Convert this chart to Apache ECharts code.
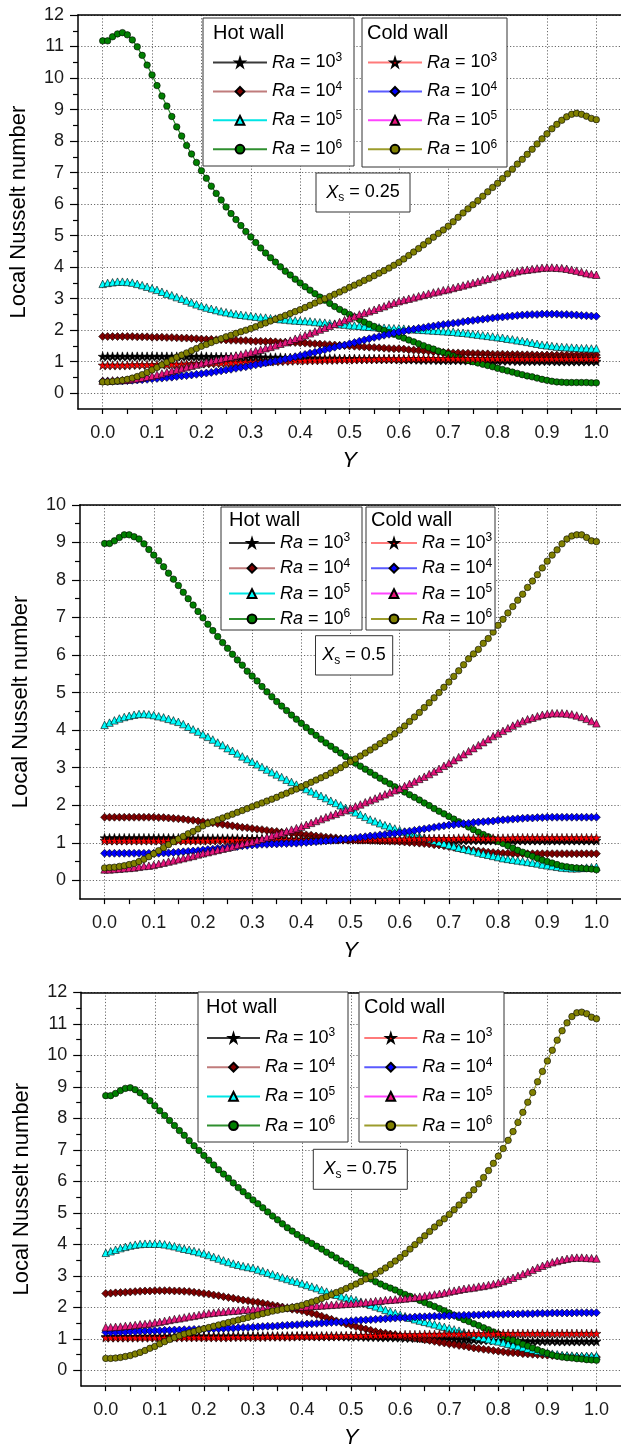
<!DOCTYPE html>
<html>
<head>
<meta charset="utf-8">
<script src="https://cdn.jsdelivr.net/npm/echarts@6/dist/echarts.min.js"></script>
<style>
  html, body { margin: 0; padding: 0; background: #ffffff; }
  #chart { width: 621px; height: 1452px; }
</style>
</head>
<body>
<div id="chart"></div>
<script>
// ---------------------------------------------------------------
// Local Nusselt number along the hot and cold walls, three heater
// positions Xs, four Rayleigh numbers. Samples every 0.01 in Y.
// ---------------------------------------------------------------
const Y_POS = Array.from({ length: 101 }, (_, i) => i / 100);

const X_TICK_VALUES = [0, 0.1, 0.2, 0.3, 0.4, 0.5, 0.6, 0.7, 0.8, 0.9, 1.0];
const X_MINOR_TICKS = [0.05, 0.15, 0.25, 0.35, 0.45, 0.55, 0.65, 0.75, 0.85, 0.95];
const Y_TICKS_12 = [0, 1, 2, 3, 4, 5, 6, 7, 8, 9, 10, 11, 12];
const Y_MINOR_12 = [0.5, 1.5, 2.5, 3.5, 4.5, 5.5, 6.5, 7.5, 8.5, 9.5, 10.5, 11.5];
const Y_TICKS_10 = [0, 1, 2, 3, 4, 5, 6, 7, 8, 9, 10];
const Y_MINOR_10 = [0.5, 1.5, 2.5, 3.5, 4.5, 5.5, 6.5, 7.5, 8.5, 9.5];

const XS_VALUES = ['0.25', '0.5', '0.75'];
const RA_EXPONENTS = ['3', '4', '5', '6'];

// ---------------- Xs = 0.25 ----------------
const P1_HOT_RA3 = [
1.17,1.17,1.17,1.17,1.17,1.17,1.17,1.17,1.17,1.17,
1.17,1.17,1.17,1.17,1.17,1.17,1.17,1.17,1.17,1.17,
1.17,1.17,1.16,1.16,1.16,1.16,1.16,1.16,1.15,1.15,
1.15,1.15,1.15,1.14,1.14,1.14,1.14,1.13,1.13,1.13,
1.13,1.12,1.12,1.12,1.11,1.11,1.11,1.11,1.10,1.10,
1.10,1.10,1.09,1.09,1.09,1.09,1.08,1.08,1.08,1.08,
1.07,1.07,1.07,1.07,1.06,1.06,1.06,1.06,1.05,1.05,
1.05,1.05,1.05,1.04,1.04,1.04,1.04,1.04,1.03,1.03,
1.03,1.03,1.03,1.03,1.02,1.02,1.02,1.02,1.02,1.02,
1.02,1.02,1.01,1.01,1.01,1.01,1.01,1.01,1.01,1.01,
1.01];
const P1_HOT_RA4 = [
1.80,1.80,1.80,1.80,1.80,1.80,1.80,1.79,1.79,1.79,
1.78,1.78,1.78,1.77,1.77,1.76,1.75,1.75,1.74,1.73,
1.72,1.71,1.71,1.70,1.70,1.69,1.68,1.68,1.67,1.67,
1.66,1.65,1.65,1.64,1.64,1.63,1.62,1.62,1.61,1.61,
1.60,1.59,1.58,1.57,1.56,1.55,1.54,1.53,1.52,1.51,
1.50,1.49,1.48,1.47,1.46,1.45,1.44,1.43,1.42,1.41,
1.41,1.40,1.38,1.37,1.36,1.35,1.34,1.32,1.31,1.30,
1.29,1.28,1.28,1.27,1.27,1.26,1.26,1.25,1.25,1.24,
1.24,1.24,1.23,1.23,1.23,1.22,1.22,1.22,1.21,1.21,
1.21,1.21,1.21,1.21,1.21,1.21,1.21,1.21,1.21,1.21,
1.21];
const P1_HOT_RA5 = [
3.47,3.50,3.52,3.54,3.54,3.53,3.51,3.47,3.43,3.38,
3.33,3.28,3.22,3.16,3.11,3.05,3.00,2.94,2.88,2.82,
2.77,2.72,2.68,2.64,2.60,2.57,2.54,2.51,2.49,2.47,
2.45,2.43,2.41,2.40,2.38,2.37,2.35,2.34,2.32,2.31,
2.30,2.29,2.28,2.26,2.25,2.24,2.22,2.21,2.19,2.18,
2.16,2.15,2.14,2.12,2.11,2.10,2.09,2.08,2.07,2.06,
2.06,2.05,2.04,2.03,2.02,2.01,2.00,1.99,1.98,1.97,
1.96,1.95,1.93,1.92,1.90,1.88,1.86,1.84,1.82,1.80,
1.78,1.76,1.73,1.71,1.68,1.66,1.63,1.60,1.57,1.54,
1.52,1.50,1.48,1.47,1.46,1.45,1.44,1.43,1.43,1.42,
1.42];
const P1_HOT_RA6 = [
11.18,11.18,11.31,11.40,11.44,11.37,11.21,10.99,10.72,10.41,
10.10,9.76,9.43,9.11,8.78,8.45,8.16,7.86,7.59,7.32,
7.06,6.82,6.57,6.34,6.13,5.91,5.70,5.51,5.32,5.13,
4.96,4.78,4.61,4.45,4.30,4.16,4.01,3.87,3.75,3.62,
3.50,3.38,3.27,3.16,3.05,2.95,2.85,2.75,2.66,2.58,
2.50,2.42,2.34,2.26,2.19,2.12,2.05,1.99,1.93,1.87,
1.81,1.75,1.69,1.63,1.57,1.51,1.45,1.40,1.34,1.29,
1.24,1.18,1.13,1.08,1.04,1.00,0.96,0.92,0.88,0.84,
0.79,0.75,0.71,0.67,0.63,0.59,0.55,0.52,0.48,0.44,
0.41,0.38,0.36,0.35,0.34,0.34,0.34,0.34,0.34,0.33,
0.33];
const P1_COLD_RA3 = [
0.89,0.89,0.89,0.89,0.89,0.89,0.90,0.90,0.90,0.90,
0.90,0.91,0.91,0.91,0.92,0.92,0.92,0.93,0.93,0.94,
0.94,0.95,0.95,0.96,0.96,0.97,0.97,0.98,0.98,0.99,
0.99,1.00,1.00,1.01,1.01,1.02,1.02,1.03,1.03,1.04,
1.04,1.04,1.05,1.05,1.05,1.06,1.06,1.06,1.07,1.07,
1.07,1.07,1.08,1.08,1.08,1.08,1.09,1.09,1.09,1.09,
1.09,1.09,1.10,1.10,1.10,1.10,1.10,1.10,1.10,1.10,
1.10,1.10,1.10,1.10,1.10,1.10,1.10,1.10,1.10,1.10,
1.10,1.10,1.10,1.10,1.10,1.10,1.10,1.10,1.10,1.10,
1.10,1.10,1.10,1.10,1.10,1.10,1.10,1.10,1.10,1.10,
1.10];
const P1_COLD_RA4 = [
0.38,0.38,0.38,0.39,0.39,0.40,0.41,0.42,0.43,0.44,
0.46,0.47,0.48,0.50,0.51,0.53,0.55,0.56,0.58,0.60,
0.62,0.64,0.66,0.69,0.71,0.74,0.76,0.79,0.82,0.84,
0.87,0.90,0.93,0.96,0.99,1.02,1.05,1.09,1.12,1.16,
1.19,1.23,1.27,1.30,1.34,1.38,1.42,1.46,1.50,1.53,
1.57,1.61,1.65,1.69,1.73,1.77,1.80,1.84,1.87,1.91,
1.94,1.97,2.00,2.03,2.06,2.08,2.11,2.13,2.16,2.18,
2.20,2.22,2.24,2.27,2.29,2.31,2.33,2.35,2.37,2.39,
2.41,2.42,2.44,2.45,2.47,2.48,2.49,2.50,2.50,2.51,
2.51,2.51,2.51,2.50,2.50,2.49,2.48,2.47,2.46,2.45,
2.44];
const P1_COLD_RA5 = [
0.40,0.40,0.41,0.41,0.42,0.43,0.45,0.47,0.49,0.52,
0.55,0.59,0.63,0.67,0.71,0.75,0.79,0.83,0.87,0.91,
0.95,0.99,1.02,1.06,1.09,1.13,1.16,1.20,1.23,1.27,
1.30,1.34,1.38,1.43,1.47,1.52,1.57,1.62,1.67,1.73,
1.78,1.84,1.90,1.96,2.02,2.08,2.14,2.20,2.26,2.32,
2.38,2.44,2.50,2.55,2.60,2.65,2.71,2.76,2.82,2.87,
2.92,2.96,3.00,3.04,3.08,3.12,3.16,3.20,3.23,3.27,
3.30,3.34,3.38,3.42,3.46,3.50,3.54,3.59,3.63,3.68,
3.72,3.76,3.80,3.83,3.87,3.90,3.92,3.94,3.96,3.98,
3.99,3.99,3.98,3.97,3.95,3.92,3.89,3.85,3.81,3.78,
3.76];
const P1_COLD_RA6 = [
0.36,0.36,0.37,0.39,0.41,0.44,0.48,0.53,0.59,0.66,
0.74,0.82,0.90,0.98,1.06,1.14,1.21,1.28,1.35,1.42,
1.49,1.55,1.61,1.67,1.73,1.79,1.84,1.90,1.95,2.00,
2.05,2.11,2.17,2.23,2.29,2.35,2.41,2.47,2.53,2.59,
2.65,2.72,2.79,2.86,2.93,3.00,3.07,3.14,3.21,3.28,
3.36,3.43,3.50,3.58,3.65,3.73,3.81,3.89,3.97,4.06,
4.15,4.26,4.37,4.48,4.59,4.71,4.83,4.95,5.07,5.18,
5.30,5.44,5.58,5.72,5.85,5.98,6.11,6.25,6.39,6.53,
6.66,6.81,6.96,7.11,7.27,7.42,7.58,7.74,7.91,8.07,
8.23,8.39,8.53,8.66,8.77,8.85,8.88,8.85,8.79,8.72,
8.68];

// ---------------- Xs = 0.5 ----------------
const P2_HOT_RA3 = [
1.13,1.13,1.13,1.13,1.13,1.13,1.13,1.13,1.13,1.13,
1.13,1.13,1.13,1.13,1.13,1.13,1.13,1.12,1.12,1.12,
1.12,1.12,1.12,1.12,1.12,1.12,1.12,1.12,1.11,1.11,
1.11,1.11,1.11,1.11,1.11,1.11,1.11,1.10,1.10,1.10,
1.10,1.10,1.10,1.10,1.10,1.10,1.09,1.09,1.09,1.09,
1.09,1.09,1.09,1.09,1.09,1.08,1.08,1.08,1.08,1.08,
1.08,1.08,1.08,1.08,1.08,1.07,1.07,1.07,1.07,1.07,
1.07,1.07,1.07,1.07,1.07,1.07,1.07,1.06,1.06,1.06,
1.06,1.06,1.06,1.06,1.06,1.06,1.06,1.06,1.06,1.06,
1.06,1.06,1.06,1.06,1.06,1.06,1.06,1.06,1.06,1.06,
1.06];
const P2_HOT_RA4 = [
1.68,1.68,1.68,1.68,1.68,1.68,1.68,1.68,1.68,1.68,
1.68,1.67,1.67,1.66,1.65,1.64,1.63,1.61,1.60,1.58,
1.56,1.54,1.53,1.51,1.49,1.47,1.45,1.43,1.41,1.40,
1.38,1.36,1.35,1.33,1.31,1.30,1.28,1.27,1.25,1.24,
1.23,1.21,1.20,1.18,1.17,1.15,1.14,1.13,1.11,1.10,
1.09,1.08,1.07,1.07,1.06,1.06,1.05,1.05,1.04,1.04,
1.03,1.02,1.01,1.00,0.99,0.98,0.97,0.95,0.94,0.92,
0.90,0.88,0.86,0.84,0.82,0.80,0.78,0.77,0.75,0.74,
0.73,0.72,0.72,0.71,0.71,0.71,0.71,0.71,0.71,0.71,
0.71,0.71,0.71,0.71,0.71,0.71,0.71,0.71,0.71,0.71,
0.71];
const P2_HOT_RA5 = [
4.14,4.20,4.26,4.31,4.35,4.38,4.41,4.43,4.43,4.42,
4.40,4.37,4.34,4.30,4.26,4.22,4.16,4.09,4.02,3.96,
3.89,3.82,3.75,3.67,3.60,3.52,3.45,3.38,3.30,3.23,
3.16,3.09,3.02,2.95,2.88,2.82,2.75,2.68,2.62,2.55,
2.49,2.43,2.37,2.31,2.25,2.19,2.12,2.06,2.00,1.93,
1.87,1.81,1.75,1.69,1.62,1.57,1.52,1.47,1.43,1.38,
1.34,1.30,1.26,1.22,1.18,1.14,1.10,1.06,1.02,0.98,
0.94,0.91,0.87,0.84,0.81,0.78,0.74,0.71,0.68,0.65,
0.62,0.59,0.57,0.55,0.53,0.51,0.49,0.47,0.45,0.42,
0.40,0.38,0.36,0.34,0.33,0.32,0.32,0.33,0.34,0.35,
0.36];
const P2_HOT_RA6 = [
8.97,8.97,9.04,9.13,9.20,9.20,9.15,9.09,8.96,8.81,
8.66,8.51,8.35,8.18,8.02,7.85,7.67,7.50,7.33,7.16,
6.99,6.82,6.65,6.49,6.33,6.18,6.02,5.87,5.73,5.57,
5.44,5.31,5.16,5.02,4.89,4.76,4.64,4.52,4.40,4.29,
4.18,4.07,3.96,3.86,3.76,3.66,3.57,3.48,3.39,3.30,
3.21,3.12,3.04,2.96,2.88,2.80,2.72,2.64,2.57,2.49,
2.42,2.35,2.28,2.21,2.14,2.06,1.99,1.91,1.84,1.77,
1.70,1.63,1.56,1.49,1.42,1.35,1.28,1.22,1.16,1.10,
1.04,0.98,0.92,0.86,0.80,0.75,0.69,0.64,0.59,0.54,
0.50,0.46,0.42,0.38,0.36,0.34,0.33,0.32,0.31,0.30,
0.28];
const P2_COLD_RA3 = [
1.06,1.06,1.06,1.06,1.06,1.06,1.06,1.06,1.06,1.06,
1.06,1.06,1.06,1.06,1.06,1.06,1.06,1.06,1.06,1.06,
1.06,1.06,1.06,1.07,1.07,1.07,1.07,1.07,1.07,1.07,
1.07,1.07,1.07,1.07,1.07,1.08,1.08,1.08,1.08,1.08,
1.08,1.08,1.08,1.08,1.08,1.09,1.09,1.09,1.09,1.09,
1.09,1.09,1.09,1.09,1.10,1.10,1.10,1.10,1.10,1.10,
1.10,1.10,1.10,1.11,1.11,1.11,1.11,1.11,1.11,1.11,
1.11,1.11,1.12,1.12,1.12,1.12,1.12,1.12,1.12,1.12,
1.12,1.12,1.12,1.13,1.13,1.13,1.13,1.13,1.13,1.13,
1.13,1.13,1.13,1.13,1.13,1.13,1.13,1.13,1.13,1.13,
1.13];
const P2_COLD_RA4 = [
0.72,0.72,0.72,0.72,0.72,0.72,0.72,0.72,0.72,0.72,
0.72,0.72,0.73,0.73,0.74,0.75,0.76,0.77,0.78,0.79,
0.81,0.82,0.83,0.85,0.86,0.88,0.89,0.90,0.92,0.93,
0.94,0.95,0.96,0.96,0.97,0.97,0.98,0.98,0.99,0.99,
1.00,1.01,1.02,1.03,1.04,1.05,1.06,1.07,1.09,1.10,
1.12,1.13,1.15,1.16,1.18,1.19,1.21,1.22,1.24,1.25,
1.27,1.29,1.31,1.33,1.35,1.37,1.39,1.41,1.43,1.45,
1.47,1.48,1.50,1.51,1.52,1.54,1.55,1.56,1.57,1.58,
1.60,1.61,1.62,1.63,1.64,1.65,1.66,1.66,1.67,1.67,
1.68,1.68,1.68,1.68,1.68,1.68,1.68,1.68,1.68,1.68,
1.68];
const P2_COLD_RA5 = [
0.29,0.29,0.30,0.31,0.32,0.33,0.34,0.36,0.38,0.39,
0.41,0.44,0.47,0.50,0.53,0.56,0.59,0.62,0.65,0.69,
0.72,0.75,0.78,0.81,0.84,0.87,0.90,0.94,0.97,1.00,
1.03,1.07,1.11,1.15,1.19,1.23,1.27,1.31,1.35,1.39,
1.43,1.48,1.53,1.58,1.63,1.68,1.73,1.77,1.82,1.87,
1.92,1.97,2.02,2.08,2.13,2.18,2.24,2.29,2.34,2.40,
2.45,2.51,2.57,2.63,2.70,2.76,2.83,2.90,2.97,3.05,
3.12,3.20,3.28,3.36,3.44,3.52,3.60,3.68,3.76,3.84,
3.91,3.98,4.05,4.12,4.18,4.24,4.29,4.33,4.37,4.41,
4.43,4.45,4.45,4.45,4.44,4.42,4.39,4.35,4.30,4.24,
4.18];
const P2_COLD_RA6 = [
0.33,0.34,0.35,0.37,0.39,0.42,0.45,0.50,0.56,0.63,
0.71,0.79,0.87,0.95,1.03,1.10,1.17,1.24,1.30,1.37,
1.45,1.51,1.56,1.61,1.66,1.71,1.76,1.81,1.86,1.91,
1.96,2.01,2.06,2.11,2.16,2.21,2.27,2.32,2.38,2.43,
2.49,2.55,2.61,2.67,2.73,2.79,2.86,2.93,3.00,3.08,
3.16,3.23,3.31,3.39,3.47,3.55,3.64,3.72,3.81,3.90,
4.00,4.11,4.23,4.35,4.47,4.60,4.73,4.86,5.00,5.14,
5.28,5.43,5.58,5.74,5.90,6.03,6.15,6.31,6.44,6.61,
6.79,6.95,7.12,7.29,7.46,7.62,7.80,7.97,8.14,8.32,
8.50,8.66,8.80,8.96,9.09,9.17,9.20,9.20,9.13,9.04,
9.02];

// ---------------- Xs = 0.75 ----------------
const P3_HOT_RA3 = [
1.07,1.07,1.07,1.07,1.07,1.07,1.07,1.08,1.08,1.08,
1.08,1.08,1.08,1.08,1.09,1.09,1.09,1.09,1.09,1.09,
1.09,1.09,1.09,1.09,1.09,1.09,1.09,1.09,1.09,1.09,
1.09,1.09,1.09,1.09,1.09,1.09,1.09,1.09,1.09,1.09,
1.09,1.09,1.09,1.08,1.08,1.08,1.08,1.08,1.08,1.07,
1.07,1.07,1.07,1.06,1.06,1.06,1.05,1.05,1.05,1.04,
1.04,1.03,1.03,1.03,1.02,1.02,1.01,1.01,1.00,1.00,
0.99,0.99,0.98,0.98,0.97,0.97,0.96,0.96,0.96,0.95,
0.95,0.95,0.94,0.94,0.94,0.94,0.93,0.93,0.93,0.93,
0.93,0.93,0.92,0.92,0.92,0.92,0.92,0.92,0.92,0.92,
0.92];
const P3_HOT_RA4 = [
2.44,2.45,2.46,2.47,2.48,2.49,2.50,2.51,2.52,2.52,
2.53,2.53,2.53,2.53,2.52,2.52,2.51,2.50,2.48,2.46,
2.44,2.42,2.39,2.37,2.34,2.31,2.29,2.26,2.23,2.21,
2.18,2.16,2.13,2.10,2.07,2.04,2.01,1.97,1.94,1.92,
1.89,1.85,1.81,1.77,1.72,1.67,1.62,1.57,1.52,1.47,
1.43,1.39,1.35,1.31,1.27,1.23,1.20,1.18,1.15,1.13,
1.10,1.07,1.05,1.02,1.00,0.97,0.95,0.92,0.89,0.87,
0.84,0.82,0.79,0.77,0.74,0.71,0.69,0.67,0.65,0.63,
0.61,0.59,0.57,0.56,0.55,0.53,0.52,0.51,0.50,0.49,
0.48,0.47,0.46,0.45,0.44,0.43,0.43,0.42,0.42,0.42,
0.42];
const P3_HOT_RA5 = [
3.73,3.78,3.83,3.88,3.92,3.96,3.99,4.01,4.02,4.02,
4.02,4.02,4.00,3.97,3.94,3.90,3.86,3.83,3.79,3.75,
3.71,3.66,3.60,3.55,3.49,3.44,3.39,3.35,3.31,3.28,
3.25,3.20,3.15,3.10,3.05,3.00,2.95,2.90,2.85,2.81,
2.76,2.71,2.66,2.61,2.55,2.50,2.45,2.40,2.35,2.31,
2.27,2.23,2.18,2.13,2.08,2.03,1.98,1.92,1.87,1.82,
1.77,1.72,1.67,1.62,1.58,1.54,1.50,1.46,1.42,1.38,
1.34,1.30,1.26,1.21,1.16,1.11,1.07,1.03,0.99,0.95,
0.92,0.88,0.84,0.80,0.77,0.73,0.69,0.66,0.62,0.59,
0.56,0.53,0.51,0.49,0.48,0.47,0.46,0.46,0.46,0.46,
0.46];
const P3_HOT_RA6 = [
8.72,8.72,8.79,8.88,8.95,8.97,8.91,8.81,8.70,8.56,
8.40,8.24,8.09,7.93,7.77,7.61,7.46,7.29,7.13,6.98,
6.82,6.67,6.52,6.37,6.23,6.10,5.95,5.80,5.67,5.54,
5.41,5.29,5.16,5.03,4.90,4.78,4.65,4.53,4.42,4.31,
4.21,4.12,4.03,3.94,3.85,3.75,3.66,3.57,3.47,3.38,
3.28,3.18,3.09,3.00,2.90,2.81,2.74,2.67,2.61,2.55,
2.48,2.41,2.35,2.28,2.22,2.15,2.09,2.03,1.96,1.89,
1.82,1.75,1.68,1.61,1.55,1.48,1.42,1.35,1.29,1.22,
1.15,1.09,1.02,0.96,0.90,0.83,0.77,0.71,0.65,0.59,
0.54,0.49,0.45,0.42,0.40,0.39,0.37,0.36,0.34,0.33,
0.32];
const P3_COLD_RA3 = [
1.04,1.04,1.04,1.04,1.04,1.04,1.04,1.04,1.04,1.04,
1.04,1.04,1.04,1.04,1.04,1.05,1.05,1.05,1.05,1.05,
1.05,1.05,1.05,1.05,1.05,1.05,1.06,1.06,1.06,1.06,
1.06,1.06,1.06,1.07,1.07,1.07,1.07,1.07,1.07,1.08,
1.08,1.08,1.08,1.08,1.09,1.09,1.09,1.09,1.09,1.10,
1.10,1.10,1.10,1.11,1.11,1.11,1.11,1.12,1.12,1.12,
1.12,1.13,1.13,1.13,1.13,1.14,1.14,1.14,1.14,1.15,
1.15,1.15,1.15,1.15,1.16,1.16,1.16,1.16,1.16,1.16,
1.17,1.17,1.17,1.17,1.17,1.17,1.17,1.17,1.17,1.17,
1.17,1.17,1.17,1.17,1.17,1.17,1.17,1.17,1.17,1.17,
1.17];
const P3_COLD_RA4 = [
1.21,1.21,1.21,1.22,1.22,1.23,1.23,1.24,1.25,1.25,
1.26,1.26,1.27,1.27,1.28,1.28,1.29,1.29,1.30,1.30,
1.31,1.31,1.32,1.32,1.33,1.34,1.34,1.35,1.36,1.36,
1.37,1.38,1.39,1.40,1.40,1.41,1.42,1.43,1.44,1.45,
1.46,1.47,1.48,1.49,1.50,1.51,1.52,1.53,1.54,1.55,
1.57,1.58,1.59,1.60,1.61,1.62,1.63,1.64,1.65,1.66,
1.67,1.67,1.68,1.69,1.70,1.70,1.71,1.72,1.72,1.73,
1.73,1.74,1.74,1.75,1.75,1.76,1.76,1.77,1.77,1.78,
1.78,1.78,1.79,1.79,1.79,1.80,1.80,1.80,1.81,1.81,
1.81,1.82,1.82,1.82,1.82,1.82,1.83,1.83,1.83,1.83,
1.83];
const P3_COLD_RA5 = [
1.37,1.37,1.38,1.39,1.41,1.42,1.44,1.46,1.47,1.49,
1.52,1.54,1.57,1.60,1.63,1.65,1.68,1.71,1.73,1.76,
1.79,1.81,1.83,1.85,1.86,1.88,1.89,1.90,1.92,1.93,
1.94,1.95,1.96,1.97,1.98,1.99,2.00,2.00,2.01,2.02,
2.02,2.03,2.04,2.05,2.06,2.07,2.08,2.09,2.10,2.11,
2.12,2.13,2.15,2.16,2.18,2.20,2.21,2.23,2.24,2.25,
2.27,2.28,2.30,2.32,2.34,2.36,2.38,2.41,2.43,2.46,
2.50,2.53,2.56,2.59,2.61,2.63,2.66,2.68,2.71,2.74,
2.78,2.83,2.88,2.94,3.00,3.06,3.12,3.19,3.26,3.32,
3.38,3.43,3.47,3.51,3.54,3.57,3.58,3.58,3.57,3.56,
3.55];
const P3_COLD_RA6 = [
0.38,0.38,0.39,0.41,0.44,0.47,0.52,0.57,0.63,0.70,
0.76,0.84,0.91,0.98,1.04,1.10,1.15,1.19,1.23,1.28,
1.32,1.36,1.40,1.44,1.48,1.52,1.56,1.60,1.64,1.68,
1.72,1.76,1.80,1.84,1.88,1.91,1.94,1.97,2.00,2.03,
2.07,2.12,2.17,2.22,2.28,2.34,2.40,2.47,2.53,2.60,
2.67,2.74,2.82,2.90,2.98,3.06,3.15,3.25,3.36,3.47,
3.58,3.71,3.85,3.99,4.13,4.27,4.41,4.55,4.68,4.81,
4.95,5.10,5.25,5.40,5.56,5.73,5.92,6.12,6.34,6.57,
6.80,7.04,7.30,7.58,7.87,8.19,8.51,8.82,9.16,9.49,
9.82,10.16,10.48,10.78,11.03,11.23,11.35,11.37,11.32,11.21,
11.16];

// ---------------- assembly ----------------
const PANEL_DATA = [
  { hot: [P1_HOT_RA3, P1_HOT_RA4, P1_HOT_RA5, P1_HOT_RA6],
    cold: [P1_COLD_RA3, P1_COLD_RA4, P1_COLD_RA5, P1_COLD_RA6],
    yMax: 12, yTicks: Y_TICKS_12, yMinor: Y_MINOR_12 },
  { hot: [P2_HOT_RA3, P2_HOT_RA4, P2_HOT_RA5, P2_HOT_RA6],
    cold: [P2_COLD_RA3, P2_COLD_RA4, P2_COLD_RA5, P2_COLD_RA6],
    yMax: 10, yTicks: Y_TICKS_10, yMinor: Y_MINOR_10 },
  { hot: [P3_HOT_RA3, P3_HOT_RA4, P3_HOT_RA5, P3_HOT_RA6],
    cold: [P3_COLD_RA3, P3_COLD_RA4, P3_COLD_RA5, P3_COLD_RA6],
    yMax: 12, yTicks: Y_TICKS_12, yMinor: Y_MINOR_12 }
];

const FONT = '"Liberation Sans", Arial, Helvetica, sans-serif';
const STAR = 'path://M50,2 L61.8,37.6 L99,37.6 L68.9,59.6 L80.4,95.2 L50,73.2 L19.6,95.2 L31.1,59.6 L1,37.6 L38.2,37.6 Z';

const MARKERS = {
  hot: [
    { symbol: STAR,       size: 9,   fill: '#000000', line: '#3a3a3a' },
    { symbol: 'diamond',  size: 8,   fill: '#800000', line: '#c07c7c' },
    { symbol: 'triangle', size: 7.5, fill: '#00ffff', line: '#00e5e5' },
    { symbol: 'circle',   size: 6.5, fill: '#008000', line: '#2f8f2f' }
  ],
  cold: [
    { symbol: STAR,       size: 9,   fill: '#ff0000', line: '#ff7a7a' },
    { symbol: 'diamond',  size: 8,   fill: '#0000ff', line: '#5a5aff' },
    { symbol: 'triangle', size: 7.5, fill: '#e8167c', line: '#ff44ff' },
    { symbol: 'circle',   size: 6.5, fill: '#808000', line: '#9c9c2c' }
  ]
};

// plot area of each panel (pixels); the right edge lies just past the page
const GRIDS = [
  { left: 77.5, top: 15,    width: 544.5, height: 394 },
  { left: 80,   top: 504.8, width: 545.6, height: 394.3 },
  { left: 81.2, top: 992.3, width: 545.3, height: 393.8 }
];

// legend boxes, titles and the Xs tag of each panel
const DECOR = [
  { hotBox: [203, 18, 354, 166], coldBox: [362, 18, 507, 167], titleY: 33,
    hotTitleX: 213, coldTitleX: 367,
    hotLeg: { left: 212, top: 51.5 }, coldLeg: { left: 367, top: 51.5 },
    itemWidth: 54, itemGap: 8.9, xsBox: [316, 173, 410, 212] },
  { hotBox: [221, 507, 362, 630], coldBox: [366, 507, 495, 630], titleY: 520,
    hotTitleX: 229, coldTitleX: 371,
    hotLeg: { left: 228, top: 532 }, coldLeg: { left: 370, top: 532 },
    itemWidth: 46, itemGap: 5.3, xsBox: [315.5, 635.7, 392.7, 675] },
  { hotBox: [198, 992, 348, 1142], coldBox: [359, 992, 504, 1142], titleY: 1007.7,
    hotTitleX: 206, coldTitleX: 364,
    hotLeg: { left: 206, top: 1027 }, coldLeg: { left: 363.3, top: 1027 },
    itemWidth: 53, itemGap: 9.2, xsBox: [313.3, 1149.3, 407.3, 1189.3] }
];

const grid = [], xAxis = [], yAxis = [], series = [], legend = [], graphic = [];

PANEL_DATA.forEach((panel, p) => {
  grid.push(Object.assign({ show: false }, GRIDS[p]));

  // main x axis: labels, ticks at the labels, grid lines
  xAxis.push({
    gridIndex: p, type: 'value', min: -0.05, max: 1.05, position: 'bottom',
    axisLine: { onZero: false, lineStyle: { color: '#000', width: 1.5 } },
    axisTick: { customValues: X_TICK_VALUES, length: 5, lineStyle: { color: '#000', width: 1.2 } },
    axisLabel: { customValues: X_TICK_VALUES, formatter: v => v.toFixed(1), fontSize: 18,
                 fontFamily: FONT, color: '#1a1a1a', margin: 15 },
    splitLine: { show: true, lineStyle: { color: '#6a6a6a', width: 1, type: [1.2, 2] } },
    name: 'Y', nameLocation: 'middle', nameGap: 41,
    nameTextStyle: { fontSize: 22, fontStyle: 'italic', fontFamily: FONT, color: '#000' }
  });
  // ticks halfway between the labels
  xAxis.push({
    gridIndex: p, type: 'value', min: -0.05, max: 1.05, position: 'bottom',
    axisLine: { show: false, onZero: false },
    axisTick: { customValues: X_MINOR_TICKS, length: 5, lineStyle: { color: '#000', width: 1.2 } },
    axisLabel: { show: false }, splitLine: { show: false }
  });
  // top frame line
  xAxis.push({
    gridIndex: p, type: 'value', min: -0.05, max: 1.05, position: 'top',
    axisLine: { show: true, onZero: false, lineStyle: { color: '#000', width: 1.5 } },
    axisTick: { show: false }, axisLabel: { show: false }, splitLine: { show: false }
  });
  yAxis.push({
    gridIndex: p, type: 'value', min: -0.5, max: panel.yMax, position: 'left',
    axisLine: { onZero: false, lineStyle: { color: '#000', width: 1.5 } },
    axisTick: { customValues: panel.yTicks, length: 8, lineStyle: { color: '#000', width: 1.2 } },
    axisLabel: { customValues: panel.yTicks, fontSize: 18, fontFamily: FONT, color: '#1a1a1a', margin: 14 },
    splitLine: { show: true, lineStyle: { color: '#6a6a6a', width: 1, type: [1.2, 2] } },
    name: 'Local Nusselt number', nameLocation: 'middle', nameGap: 48,
    nameTextStyle: { fontSize: 22, fontFamily: FONT, color: '#000' }
  });
  yAxis.push({
    gridIndex: p, type: 'value', min: -0.5, max: panel.yMax, position: 'left',
    axisLine: { show: false, onZero: false },
    axisTick: { customValues: panel.yMinor, length: 5, lineStyle: { color: '#000', width: 1.2 } },
    axisLabel: { show: false }, splitLine: { show: false }
  });

  ['hot', 'cold'].forEach((wall, w) => {
    const names = [];
    panel[wall].forEach((values, k) => {
      const m = MARKERS[wall][k];
      const name = `p${p}-${wall}-${RA_EXPONENTS[k]}`;
      names.push(name);
      series.push({
        name, type: 'line', xAxisIndex: 3 * p, yAxisIndex: 2 * p,
        data: Y_POS.map((y, i) => [y, values[i]]),
        symbol: m.symbol, symbolSize: m.size, showSymbol: true, showAllSymbol: true,
        itemStyle: { color: m.fill, borderColor: '#000', borderWidth: 0.6 },
        lineStyle: { color: m.line, width: 1.2 },
        z: 3 + w, silent: true, animation: false, emphasis: { disabled: true }
      });
    });
    const d = DECOR[p];
    const pos = wall === 'hot' ? d.hotLeg : d.coldLeg;
    legend.push({
      orient: 'vertical', left: pos.left, top: pos.top, padding: 0,
      itemWidth: d.itemWidth, itemHeight: 11, itemGap: d.itemGap,
      selectedMode: false, data: names, z: 20,
      formatter: n => `{i|Ra}{n| = 10}{s|${n.split('-')[2]}}`,
      textStyle: {
        fontFamily: FONT, fontSize: 18, color: '#000',
        rich: {
          i: { fontFamily: FONT, fontSize: 18, fontStyle: 'italic', lineHeight: 22, verticalAlign: 'middle', color: '#000' },
          n: { fontFamily: FONT, fontSize: 18, lineHeight: 22, verticalAlign: 'middle', color: '#000' },
          s: { fontFamily: FONT, fontSize: 12, lineHeight: 12, verticalAlign: 'top', color: '#000' }
        }
      }
    });
  });

  // legend frames and titles
  const d = DECOR[p];
  [[d.hotBox, 'Hot wall', d.hotTitleX], [d.coldBox, 'Cold wall', d.coldTitleX]].forEach(([b, title, tx]) => {
    graphic.push({
      type: 'rect', z: 10, silent: true,
      shape: { x: b[0], y: b[1], width: b[2] - b[0], height: b[3] - b[1] },
      style: { fill: '#ffffff', stroke: '#333333', lineWidth: 1 }
    });
    graphic.push({
      type: 'text', z: 11, silent: true, x: tx, y: d.titleY,
      style: { text: title, font: `20px ${FONT}`, fill: '#000',
               textAlign: 'left', align: 'left', textVerticalAlign: 'middle', verticalAlign: 'middle' }
    });
  });
  // Xs tag
  const xb = d.xsBox;
  graphic.push({
    type: 'rect', z: 10, silent: true,
    shape: { x: xb[0], y: xb[1], width: xb[2] - xb[0], height: xb[3] - xb[1] },
    style: { fill: '#ffffff', stroke: '#333333', lineWidth: 1 }
  });
  graphic.push({
    type: 'text', z: 11, silent: true, x: (xb[0] + xb[2]) / 2, y: (xb[1] + xb[3]) / 2,
    style: {
      text: `{x|X}{s|s}{n| = ${XS_VALUES[p]}}`,
      textAlign: 'center', align: 'center', textVerticalAlign: 'middle', verticalAlign: 'middle',
      rich: {
        x: { fontFamily: FONT, fontSize: 18, fontStyle: 'italic', lineHeight: 22, verticalAlign: 'middle', fill: '#000' },
        s: { fontFamily: FONT, fontSize: 12, lineHeight: 12, verticalAlign: 'bottom', fill: '#000' },
        n: { fontFamily: FONT, fontSize: 18, lineHeight: 22, verticalAlign: 'middle', fill: '#000' }
      }
    }
  });
});

const chart = echarts.init(document.getElementById('chart'), null, { renderer: 'canvas' });
chart.setOption({
  backgroundColor: '#ffffff',
  animation: false,
  grid, xAxis, yAxis, series, legend, graphic
});
</script>
</body>
</html>
